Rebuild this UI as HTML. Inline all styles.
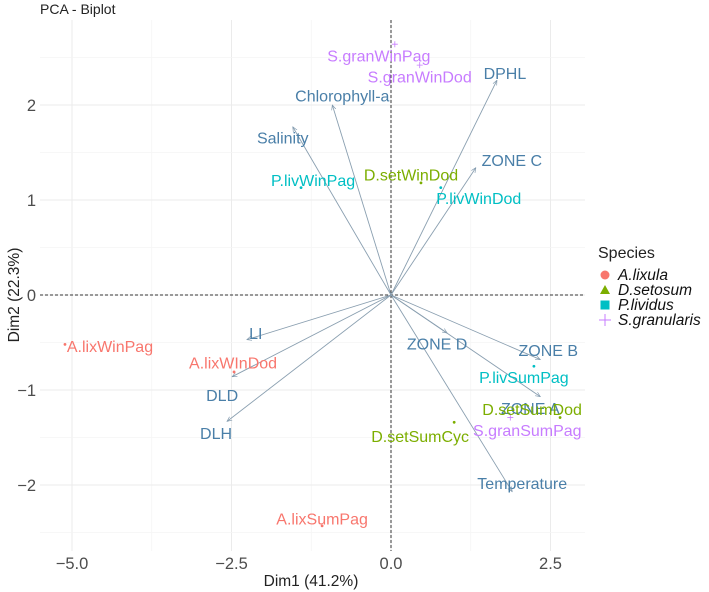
<!DOCTYPE html>
<html><head><meta charset="utf-8">
<style>
html,body{margin:0;padding:0;background:#fff;}
svg{display:block;font-family:"Liberation Sans",sans-serif;}
</style></head>
<body>
<svg id="chart" width="709" height="592" viewBox="0 0 709 592">
<defs>
<marker id="ah" viewBox="0 0 10 10" refX="9" refY="5" markerWidth="6" markerHeight="6" orient="auto-start-reverse">
<path d="M0,1 L9,5 L0,9" fill="none" stroke="#7f98ad" stroke-width="1.2"/>
</marker>
</defs>
<text x="40" y="14" font-size="14" fill="#222">PCA - Biplot</text>
<g id="grid"></g>
<g id="axes"></g>
<g id="arrows"></g>
<g id="points"></g>
<g id="labels"></g>
<text x="311" y="586" text-anchor="middle" font-size="15.5" fill="#222">Dim1 (41.2%)</text>
<text transform="translate(19,295) rotate(-90)" text-anchor="middle" font-size="15.5" fill="#222">Dim2 (22.3%)</text>
<g id="legend">
<text x="598" y="258" font-size="16" fill="#222">Species</text>
</g>
</svg>
<script>
// Individuals
const indNames=["A.lixWinPag","A.lixWInDod","A.lixSumPag","P.livWinPag","P.livWinDod","P.livSumPag","D.setWinDod","D.setSumCyc","D.setSumDod","S.granWinPag","S.granWinDod","S.granSumPag"];
const indGroup=[0,0,0,2,2,2,1,1,1,3,3,3];
const indX=[-5.11,-2.46,-1.08,-1.41,0.78,2.24,0.47,0.99,2.65,0.06,0.45,1.87];
const indY=[-0.52,-0.81,-2.43,1.13,1.13,-0.75,1.18,-1.34,-1.29,2.64,2.42,-1.29];
// Variables
const varNames=["Chlorophyll-a","Salinity","DPHL","ZONE C","LI","DLD","DLH","ZONE D","ZONE B","ZONE A","Temperature"];
const varX=[-0.92,-1.54,1.66,1.33,-2.26,-2.49,-2.57,0.88,2.34,2.34,1.90];
const varY=[2.00,1.77,2.26,1.34,-0.47,-0.86,-1.33,-0.40,-0.68,-1.07,-2.07];
const groups=["A.lixula","D.setosum","P.lividus","S.granularis"];
const xTicks=[-5.0,-2.5,0.0,2.5];
const xTickLabels=["\u22125.0","\u22122.5","0.0","2.5"];
const yTicks=[-2,-1,0,1,2];
const yTickLabels=["\u22122","\u22121","0","1","2"];

// layout (not data)
const colors=["#F8766D","#7CAE00","#00BFC4","#C77CFF"];
const varColor="#4a7fa8";
const L=40,R=585,T=20,B=551;
const sx=v=>391+v*63.8;
const sy=v=>295-v*95;
const indDx=[45,-1,0,12,38,-10,-10,-34,-28,-16,0,17];
const indDy=[2,-9,-7,-7,11,11,-8,14,-8,12,12,13];
const varDx=[10,-10,8,36,9,-10,-11,-10,8,-10,10];
const varDy=[-9,11,-7,-7,-6,19,12,11,-9,12,-8];

const NS="http://www.w3.org/2000/svg";
function mk(tag,attrs,parent){const e=document.createElementNS(NS,tag);for(const k in attrs)e.setAttribute(k,attrs[k]);parent.appendChild(e);return e;}
const grid=document.getElementById('grid'),axes=document.getElementById('axes'),arrows=document.getElementById('arrows'),pts=document.getElementById('points'),labs=document.getElementById('labels'),leg=document.getElementById('legend');

for(let v=-6.25;v<=3.75;v+=1.25){const x=sx(v);if(x<L||x>R)continue;const major=Math.abs(v/2.5-Math.round(v/2.5))<1e-6;
 const g=mk('line',{x1:x,x2:x,y1:T,y2:B,stroke:major?'#ebebeb':'#f4f4f4','stroke-width':major?1:0.7},grid);
 }
for(let v=-3;v<=3;v+=0.5){const y=sy(v);if(y<T||y>B)continue;const major=Number.isInteger(v);
 const g=mk('line',{x1:L,x2:R,y1:y,y2:y,stroke:major?'#ebebeb':'#f4f4f4','stroke-width':major?1:0.7},grid);
 }

let z=mk('line',{x1:L,x2:R,y1:sy(0),y2:sy(0),stroke:'#333','stroke-dasharray':'3,2','stroke-width':1},axes);

z=mk('line',{x1:sx(0),x2:sx(0),y1:T,y2:B,stroke:'#333','stroke-dasharray':'3,2','stroke-width':1},axes);


xTicks.forEach((v,i)=>{const t=mk('text',{x:sx(v),y:569,'text-anchor':'middle','font-size':16.5,fill:'#4d4d4d'},axes);t.textContent=xTickLabels[i];
 });
yTicks.forEach((v,i)=>{const t=mk('text',{x:36,y:sy(v)+6,'text-anchor':'end','font-size':16.5,fill:'#4d4d4d'},axes);t.textContent=yTickLabels[i];
 });

varNames.forEach((n,i)=>{const a=mk('line',{x1:sx(0),y1:sy(0),x2:sx(varX[i]),y2:sy(varY[i]),stroke:'#8a9fb0','stroke-width':0.9,'marker-end':'url(#ah)'},arrows);
 
 const t=mk('text',{x:sx(varX[i])+varDx[i],y:sy(varY[i])+varDy[i]+5.5,'text-anchor':'middle','font-size':16,fill:varColor},labs);t.textContent=n;
 });

indNames.forEach((n,i)=>{const c=colors[indGroup[i]],x=sx(indX[i]),y=sy(indY[i]);
 let p;
 if(indGroup[i]===3){p=mk('path',{d:`M${x-3},${y}H${x+3}M${x},${y-3}V${y+3}`,stroke:c,'stroke-width':0.8},pts);}
 else p=mk('circle',{cx:x,cy:y,r:1.4,fill:c},pts);
 
 const t=mk('text',{x:x+indDx[i],y:y+indDy[i]+5.5,'text-anchor':'middle','font-size':16,fill:c},labs);t.textContent=n;
 });

groups.forEach((g,i)=>{const y=275+i*15,x=605,c=colors[i];let s;
 if(i===0)s=mk('circle',{cx:x,cy:y,r:4.5,fill:c},leg);
 else if(i===1)s=mk('path',{d:`M${x-5},${y+4}L${x+5},${y+4}L${x},${y-5}Z`,fill:c},leg);
 else if(i===2)s=mk('rect',{x:x-4.5,y:y-4.5,width:9,height:9,fill:c},leg);
 else s=mk('path',{d:`M${x-6},${y}H${x+6}M${x},${y-6}V${y+6}`,stroke:c,'stroke-width':1},leg);
 
 const t=mk('text',{x:618,y:y+5,'font-size':15.5,'font-style':'italic',fill:'#111'},leg);t.textContent=g;
 });
</script>
</body></html>
